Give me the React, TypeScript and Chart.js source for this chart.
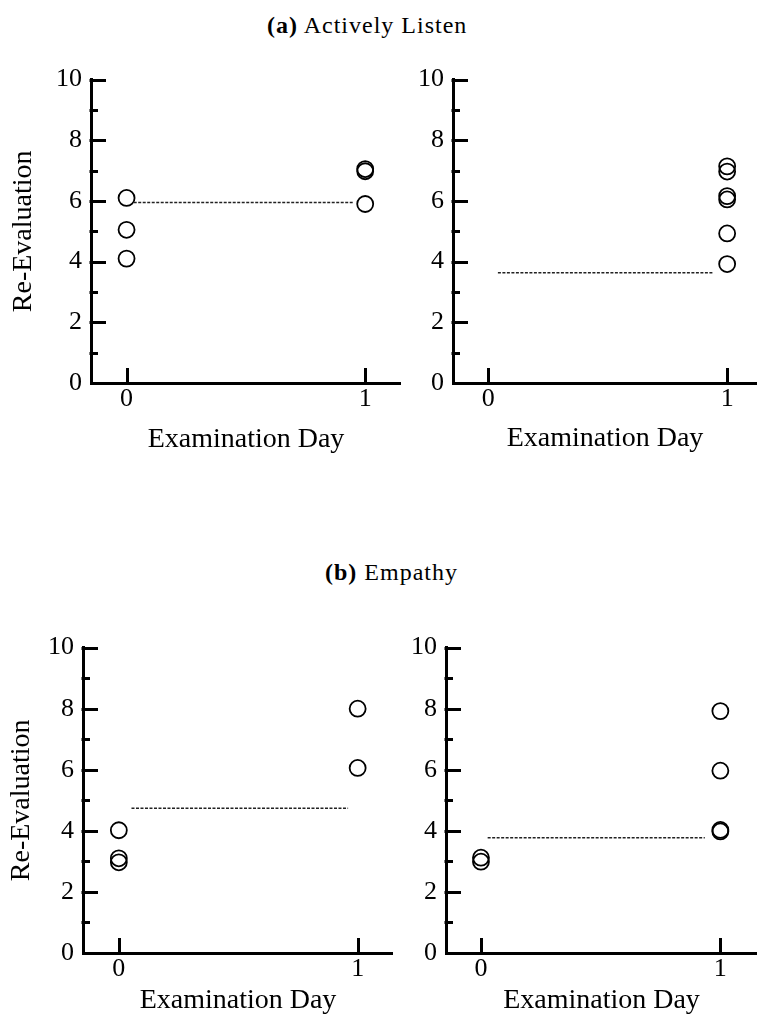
import React, { useEffect, useRef } from 'react';
import { Chart, registerables } from 'chart.js';

Chart.register(...registerables);

const FONT = '"Liberation Serif", "Times New Roman", Times, serif';

// ---- axis ticks ----
const X_TICKS = [0, 1];
const Y_TICKS = [0, 2, 4, 6, 8, 10];
const Y_MINOR_TICKS = [1, 3, 5, 7, 9];

// ---- (a) Actively Listen ----
const A_LEFT_DAY0 = [6.1, 5.05, 4.1];
const A_LEFT_DAY1 = [7.05, 6.98, 5.9];
const A_LEFT_REF_Y = 5.95;
const A_LEFT_REF_SPAN = [0.03, 0.95];

const A_RIGHT_DAY0: number[] = [];
const A_RIGHT_DAY1 = [7.14, 6.97, 6.16, 6.05, 4.93, 3.92];
const A_RIGHT_REF_Y = 3.63;
const A_RIGHT_REF_SPAN = [0.04, 0.94];

// ---- (b) Empathy ----
const B_LEFT_DAY0 = [4.02, 3.1, 2.97];
const B_LEFT_DAY1 = [8.0, 6.06];
const B_LEFT_REF_Y = 4.74;
const B_LEFT_REF_SPAN = [0.053, 0.96];

const B_RIGHT_DAY0 = [3.12, 2.99];
const B_RIGHT_DAY1 = [7.92, 5.97, 4.03, 3.98];
const B_RIGHT_REF_Y = 3.77;
const B_RIGHT_REF_SPAN = [0.028, 0.935];

type PanelSpec = {
  day0: number[];
  day1: number[];
  refY: number;
  refSpan: number[];
  left: number;
  top: number;
  width: number;
  height: number;
  yAxisWidth: number;
  xAxisHeight: number;
  padTop: number;
  xMin: number;
  xMax: number;
  yTitle: boolean;
  yTitlePad: number;
  xTitlePad: number;
};

const PANELS: PanelSpec[] = [
  {
    day0: A_LEFT_DAY0, day1: A_LEFT_DAY1, refY: A_LEFT_REF_Y, refSpan: A_LEFT_REF_SPAN,
    left: 0, top: 55, width: 401, height: 408, yAxisWidth: 91, xAxisHeight: 80, padTop: 20,
    xMin: -0.149, xMax: 1.15, yTitle: true, yTitlePad: 7, xTitlePad: 7,
  },
  {
    day0: A_RIGHT_DAY0, day1: A_RIGHT_DAY1, refY: A_RIGHT_REF_Y, refSpan: A_RIGHT_REF_SPAN,
    left: 390, top: 55, width: 367, height: 408, yAxisWidth: 63, xAxisHeight: 80, padTop: 20,
    xMin: -0.148, xMax: 1.125, yTitle: false, yTitlePad: 0, xTitlePad: 8,
  },
  {
    day0: B_LEFT_DAY0, day1: B_LEFT_DAY1, refY: B_LEFT_REF_Y, refSpan: B_LEFT_REF_SPAN,
    left: 0, top: 623, width: 393, height: 410, yAxisWidth: 83, xAxisHeight: 80, padTop: 20,
    xMin: -0.15, xMax: 1.148, yTitle: true, yTitlePad: 5, xTitlePad: 16,
  },
  {
    day0: B_RIGHT_DAY0, day1: B_RIGHT_DAY1, refY: B_RIGHT_REF_Y, refSpan: B_RIGHT_REF_SPAN,
    left: 386, top: 623, width: 371, height: 410, yAxisWidth: 60, xAxisHeight: 80, padTop: 20,
    xMin: -0.146, xMax: 1.153, yTitle: false, yTitlePad: 0, xTitlePad: 16,
  },
];

const innerTicks = {
  id: 'innerTicks',
  afterDraw(chart: any) {
    const { ctx, chartArea, scales } = chart;
    const xs = scales.x;
    const ys = scales.y;
    ctx.save();
    ctx.strokeStyle = '#000';
    ctx.lineWidth = 3;
    ctx.lineCap = 'butt';
    const left = chartArea.left;
    const bottom = chartArea.bottom;
    Y_TICKS.forEach((v) => {
      if (v === 0) return;
      const py = Math.round(ys.getPixelForValue(v)) + 0.5;
      ctx.beginPath();
      ctx.moveTo(left - 1.5, py);
      ctx.lineTo(left + 15, py);
      ctx.stroke();
    });
    Y_MINOR_TICKS.forEach((v) => {
      const py = Math.round(ys.getPixelForValue(v)) + 0.5;
      ctx.beginPath();
      ctx.moveTo(left - 1.5, py);
      ctx.lineTo(left + 7, py);
      ctx.stroke();
    });
    X_TICKS.forEach((v) => {
      const px = Math.round(xs.getPixelForValue(v)) + 0.5;
      ctx.beginPath();
      ctx.moveTo(px, bottom + 1.5);
      ctx.lineTo(px, bottom - 15);
      ctx.stroke();
    });
    ctx.restore();
  },
};

function Panel({ p }: { p: PanelSpec }) {
  const ref = useRef<HTMLCanvasElement>(null);
  useEffect(() => {
    const canvas = ref.current;
    if (!canvas) return;
    const points = [
      ...p.day0.map((y) => ({ x: X_TICKS[0], y })),
      ...p.day1.map((y) => ({ x: X_TICKS[1], y })),
    ];
    const refLine = p.refSpan.map((x) => ({ x, y: p.refY }));
    const chart = new Chart(canvas, {
      type: 'scatter',
      data: {
        datasets: [
          {
            data: refLine,
            showLine: true,
            borderColor: '#222',
            borderWidth: 1.5,
            borderDash: [3, 1.5],
            pointRadius: 0,
            pointHoverRadius: 0,
            fill: false,
          } as any,
          {
            data: points,
            pointRadius: 8,
            pointHoverRadius: 8,
            pointBorderWidth: 1.8,
            borderColor: '#000',
            pointBorderColor: '#000',
            backgroundColor: 'rgba(0,0,0,0)',
            pointBackgroundColor: 'rgba(0,0,0,0)',
          } as any,
        ],
      },
      options: {
        animation: false,
        responsive: false,
        maintainAspectRatio: false,
        events: [],
        layout: { autoPadding: false, padding: { top: p.padTop, left: 0, right: 0, bottom: 0 } },
        plugins: {
          legend: { display: false },
          tooltip: { enabled: false },
          title: { display: false },
        },
        scales: {
          x: {
            type: 'linear',
            min: p.xMin,
            max: p.xMax,
            grid: { display: false, drawTicks: false },
            border: { display: true, color: '#000', width: 3 },
            afterBuildTicks: (scale: any) => {
              scale.ticks = X_TICKS.map((value) => ({ value }));
            },
            afterFit: (scale: any) => {
              scale.height = p.xAxisHeight;
            },
            ticks: {
              color: '#000',
              font: { family: FONT, size: 26 },
              padding: 1,
              maxRotation: 0,
              autoSkip: false,
            },
            title: {
              display: true,
              text: 'Examination Day',
              color: '#000',
              font: { family: FONT, size: 28 },
              padding: { top: 0, bottom: p.xTitlePad },
            },
          },
          y: {
            type: 'linear',
            min: 0,
            max: 10,
            grid: { display: false, drawTicks: false },
            border: { display: true, color: '#000', width: 3 },
            afterBuildTicks: (scale: any) => {
              scale.ticks = Y_TICKS.map((value) => ({ value }));
            },
            afterFit: (scale: any) => {
              scale.width = p.yAxisWidth;
            },
            ticks: {
              color: '#000',
              font: { family: FONT, size: 26 },
              padding: 9,
              autoSkip: false,
            },
            title: {
              display: p.yTitle,
              text: 'Re-Evaluation',
              color: '#000',
              font: { family: FONT, size: 28 },
              padding: { top: p.yTitlePad, bottom: 0 },
            },
          },
        },
      } as any,
      plugins: [innerTicks],
    });
    return () => chart.destroy();
  }, [p]);
  return (
    <canvas
      ref={ref}
      width={p.width}
      height={p.height}
      style={{ position: 'absolute', left: p.left, top: p.top, width: p.width, height: p.height }}
    />
  );
}

const titleStyle: React.CSSProperties = {
  position: 'absolute',
  fontFamily: FONT,
  fontSize: 24,
  lineHeight: '24px',
  letterSpacing: '1px',
  whiteSpace: 'nowrap',
  color: '#000',
};

export default function App() {
  return (
    <div
      style={{
        position: 'absolute',
        left: 0,
        top: 0,
        width: 757,
        height: 1021,
        overflow: 'hidden',
        background: '#fff',
      }}
    >
      <div style={{ ...titleStyle, left: 267, top: 13 }}>
        <b>(a)</b> Actively Listen
      </div>
      <div style={{ ...titleStyle, left: 325, top: 560 }}>
        <b>(b)</b> Empathy
      </div>
      {PANELS.map((p, i) => (
        <Panel key={i} p={p} />
      ))}
    </div>
  );
}
